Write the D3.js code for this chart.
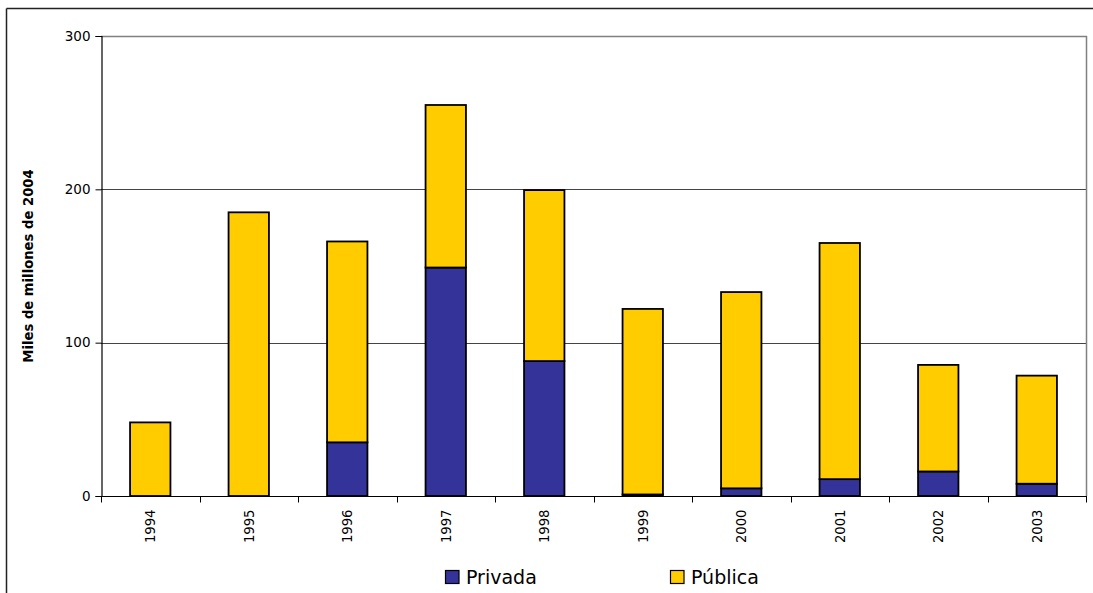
<!DOCTYPE html>
<html>
<head>
<meta charset="utf-8">
<script src="https://cdn.jsdelivr.net/npm/d3@7/dist/d3.min.js"></script>
<style>
  html, body { margin: 0; padding: 0; background: #fff; }
  svg { display: block; font-family: "DejaVu Sans", sans-serif; }
</style>
</head>
<body>
<svg id="chart" width="1093" height="593"></svg>
<script>
// Inversión por año, miles de millones de 2004
const years = ["1994", "1995", "1996", "1997", "1998", "1999", "2000", "2001", "2002", "2003"];
const privada = [0, 0, 35, 149, 88, 1, 5, 11, 16, 8];
const publica = [48, 185, 131, 106, 111.5, 121, 128, 154, 69.5, 70.5];
const yTicks = [0, 100, 200, 300];
const seriesNames = ["Privada", "Pública"];
const seriesColors = ["#333399", "#FFCC00"];

const svg = d3.select("#chart");
const margin = { left: 101, right: 1086, top: 36, bottom: 496 };

// outer chart frame (left and top edges)
svg.append("line").attr("x1", 6.5).attr("x2", 6.5).attr("y1", 8.5).attr("y2", 593)
  .attr("stroke", "#222").attr("stroke-width", 1.5);
svg.append("line").attr("x1", 6.5).attr("x2", 1093).attr("y1", 8.5).attr("y2", 8.5)
  .attr("stroke", "#222").attr("stroke-width", 1.5);

const x = d3.scaleBand().domain(years).range([margin.left, margin.right]).paddingInner(0.59).paddingOuter(0.295);
const xEdges = d3.scaleBand().domain(years).range([margin.left, margin.right]).padding(0);
const y = d3.scaleLinear().domain([0, 300]).range([margin.bottom, margin.top]);

// gridlines
svg.append("g").selectAll("line").data(yTicks.filter(d => d > 0)).join("line")
  .attr("x1", margin.left).attr("x2", margin.right)
  .attr("y1", d => Math.round(y(d)) + 0.5).attr("y2", d => Math.round(y(d)) + 0.5)
  .attr("stroke", "#444").attr("stroke-width", 1);

// plot area right and top border
svg.append("line").attr("x1", margin.right + 0.5).attr("x2", margin.right + 0.5)
  .attr("y1", margin.top).attr("y2", margin.bottom)
  .attr("stroke", "#808080").attr("stroke-width", 1.5);
svg.append("line").attr("x1", margin.left).attr("x2", margin.right + 1)
  .attr("y1", margin.top + 0.5).attr("y2", margin.top + 0.5)
  .attr("stroke", "#808080").attr("stroke-width", 1.5);

// stacked bars
const rows = years.map((yr, i) => ({ year: yr, Privada: privada[i], "Pública": publica[i] }));
const stack = d3.stack().keys(seriesNames)(rows);
svg.append("g").selectAll("g").data(stack).join("g")
  .attr("fill", (d, i) => seriesColors[i])
  .selectAll("rect").data(d => d.filter(s => s[1] - s[0] > 0)).join("rect")
  .attr("x", d => x(d.data.year))
  .attr("width", x.bandwidth())
  .attr("y", d => y(d[1]))
  .attr("height", d => y(d[0]) - y(d[1]))
  .attr("stroke", "#000").attr("stroke-width", 1.8);

// y axis
const yAxis = svg.append("g").attr("transform", `translate(${margin.left + 0.5},0)`)
  .call(d3.axisLeft(y).tickValues(yTicks).tickSize(6).tickPadding(5));
yAxis.select(".domain").attr("stroke", "#000").attr("stroke-width", 1.2);
yAxis.selectAll(".tick line").attr("stroke", "#000");
yAxis.selectAll("text").attr("font-size", 13.5).attr("fill", "#000").attr("font-family", "DejaVu Sans");

// x axis with ticks on category boundaries
const xAxisG = svg.append("g").attr("transform", `translate(0,${margin.bottom + 0.5})`);
xAxisG.append("line").attr("x1", margin.left).attr("x2", margin.right + 1)
  .attr("stroke", "#000").attr("stroke-width", 1.2);
const edges = years.map(d => xEdges(d)).concat([margin.right]);
xAxisG.selectAll("line.tk").data(edges).join("line").attr("class", "tk")
  .attr("x1", d => Math.round(d) + 0.5).attr("x2", d => Math.round(d) + 0.5)
  .attr("y1", 0).attr("y2", 6).attr("stroke", "#000");
xAxisG.selectAll("text").data(years).join("text")
  .attr("transform", d => `translate(${x(d) + x.bandwidth() / 2 + 5},13) rotate(-90)`)
  .attr("text-anchor", "end")
  .attr("font-size", 13.2).attr("fill", "#000")
  .text(d => d);

// y axis title
svg.append("text")
  .attr("transform", `translate(33,${(margin.top + margin.bottom) / 2}) rotate(-90)`)
  .attr("text-anchor", "middle").attr("font-weight", "bold").attr("font-size", 13.2)
  .text("Miles de millones de 2004");

// legend
const legendX = [445, 670];
const lg = svg.append("g").selectAll("g").data(seriesNames).join("g")
  .attr("transform", (d, i) => `translate(${legendX[i]},570)`);
lg.append("rect").attr("x", 0.5).attr("y", 0.5).attr("width", 13.5).attr("height", 13)
  .attr("fill", (d, i) => seriesColors[i]).attr("stroke", "#000").attr("stroke-width", 1.2);
lg.append("text").attr("x", 21).attr("y", 14).attr("font-size", 19).attr("fill", "#000")
  .text(d => d);
</script>
</body>
</html>
